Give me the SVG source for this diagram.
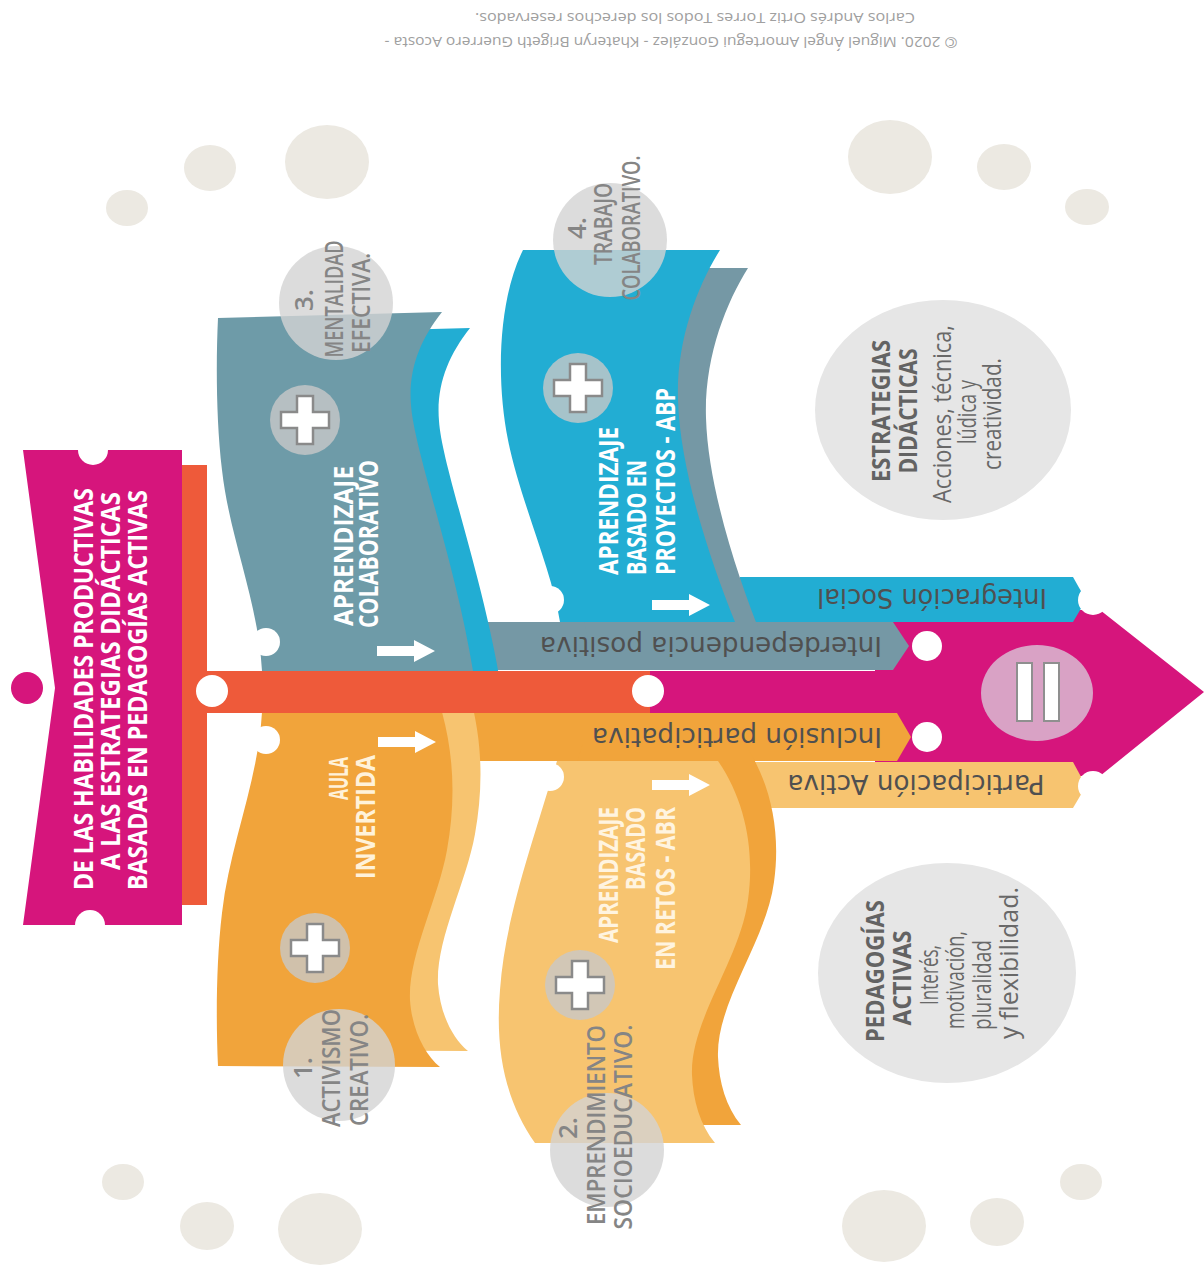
<svg xmlns="http://www.w3.org/2000/svg" width="1204" height="1265" viewBox="0 0 1204 1265">
<defs>
<style>
.t-title{font-family:"Open Sans","Liberation Sans",sans-serif;font-weight:700;font-size:27px;fill:#fff}
.t-rib{font-family:"Open Sans","Liberation Sans",sans-serif;font-weight:700;font-size:26px}
.t-num{font-family:"Open Sans","Liberation Sans",sans-serif;font-weight:600;font-size:26px;fill:#858585}
.t-band{font-family:"DejaVu Sans","Liberation Sans",sans-serif;font-size:26px;fill:#505050}
.t-nb{font-family:"Open Sans","Liberation Sans",sans-serif;font-weight:700;font-size:25px;fill:#636363}
.t-nr{font-family:"Open Sans","Liberation Sans",sans-serif;font-weight:400;font-size:26px;fill:#686868}
.t-copy{font-family:"Open Sans","Liberation Sans",sans-serif;font-size:15px;fill:#a0a0a0}
.deco{fill:#ECE9E2}
.numdisc{fill:#D3D3D3;opacity:.8}
.plusdisc{fill:#C8C8C8;opacity:.8}
.cross{fill:#fff;stroke:#8A8A8A;stroke-width:2.5}
.white{fill:#fff}
.note{fill:#E6E6E6}
.mag{fill:#D6157C}
.red{fill:#EE5A3A}
.greyb{fill:#7598A5}
.greyr{fill:#6E9BA8}
.blue{fill:#22ADD3}
.orange{fill:#F1A43B}
.lorange{fill:#F7C470}
</style>
<path id="crossShape" d="M -8,-24 H 8 V -8 H 24 V 8 H 8 V 24 H -8 V 8 H -24 V -8 H -8 Z"/>
<path id="arrowShape" d="M -29,-5 H 8 V -11 L 29,0 L 8,11 V 5 H -29 Z"/>
<path id="ribG" d="M 218,318 L 442,312 C 420,340 408,370 411,405 C 414,450 455,560 473,671 L 262,671 C 258,600 230,540 222,470 C 216,420 216,360 218,318 Z"/>
<path id="ribO" d="M 262,712 L 442,712 C 455,760 455,805 447,850 C 438,900 408,955 410,1000 C 412,1030 425,1055 440,1067 L 218,1066 C 216,1023 216,963 222,913 C 230,843 258,783 262,712 Z"/>
<path id="ribB" d="M 523,250 L 720,250 C 698,285 676,340 678,400 C 680,470 710,560 735,622 L 560,622 C 552,570 520,500 508,440 C 496,380 498,300 523,250 Z"/>
<path id="ribL" d="M 557,761 L 718,761 C 745,800 755,850 748,900 C 740,960 690,1020 692,1075 C 693,1100 700,1125 715,1143 L 535,1143 C 505,1100 495,1050 500,990 C 505,920 530,850 557,761 Z"/>
</defs>

<rect width="1204" height="1265" fill="#fff"/>

<!-- decorative dots in the corners -->
<g id="decor">
  <ellipse class="deco" cx="127" cy="208" rx="21" ry="18"/>
  <ellipse class="deco" cx="210" cy="168" rx="26" ry="23"/>
  <ellipse class="deco" cx="327" cy="162" rx="42" ry="37"/>
  <ellipse class="deco" cx="890" cy="157" rx="42" ry="37"/>
  <ellipse class="deco" cx="1004" cy="167" rx="27" ry="23"/>
  <ellipse class="deco" cx="1087" cy="207" rx="22" ry="18"/>
  <ellipse class="deco" cx="123" cy="1182" rx="21" ry="18"/>
  <ellipse class="deco" cx="207" cy="1226" rx="27" ry="24"/>
  <ellipse class="deco" cx="320" cy="1229" rx="42" ry="36"/>
  <ellipse class="deco" cx="884" cy="1226" rx="42" ry="36"/>
  <ellipse class="deco" cx="997" cy="1222" rx="27" ry="24"/>
  <ellipse class="deco" cx="1081" cy="1182" rx="21" ry="18"/>
</g>

<!-- copyright line, printed upside down -->
<g id="copyright">
  <text class="t-copy" transform="translate(671,37) rotate(180)" text-anchor="middle" textLength="573" lengthAdjust="spacingAndGlyphs">© 2020. Miguel Ángel Amortegui González - Khateryn Brigeth Guerrero Acosta -</text>
  <text class="t-copy" transform="translate(695,13) rotate(180)" text-anchor="middle" textLength="440" lengthAdjust="spacingAndGlyphs">Carlos Andrés Ortiz Torres Todos los derechos reservados.</text>
</g>

<!-- connectors: arrow body, side bands and spine -->
<g id="connectors">
  <path class="mag" d="M 640,671 H 875 V 610 H 1100 L 1204,692 L 1100,776 H 875 V 713 H 640 Z"/>
  <path class="blue" d="M 740,577 H 1073 L 1086,600 L 1073,622 H 740 Z"/>
  <path class="lorange" d="M 740,762 H 1073 L 1086,786 L 1073,808 H 740 Z"/>
  <path class="greyb" d="M 455,622 H 893 L 909,646 L 893,670 H 455 Z"/>
  <path class="orange" d="M 455,713 H 897 L 911,737 L 897,761 H 455 Z"/>
  <circle class="white" cx="1093" cy="600" r="15"/>
  <circle class="white" cx="927" cy="646" r="15"/>
  <circle class="white" cx="927" cy="737" r="15"/>
  <circle class="white" cx="1093" cy="786" r="15"/>
  <rect class="red" x="178" y="465" width="29" height="440"/>
</g>

<!-- ribbon: Aprendizaje basado en proyectos -->
<g id="rib-abp">
  <use href="#ribB" class="greyb" transform="translate(28,18)"/>
  <use href="#ribB" class="blue"/>
  <circle class="white" cx="550" cy="600" r="14"/>
</g>

<!-- ribbon: Aprendizaje basado en retos -->
<g id="rib-abr">
  <use href="#ribL" class="orange" transform="translate(26,-18)"/>
  <use href="#ribL" class="lorange"/>
  <circle class="white" cx="550" cy="777" r="14"/>
</g>

<!-- ribbon: Aprendizaje colaborativo -->
<g id="rib-colab">
  <use href="#ribG" class="blue" transform="translate(28,16)"/>
  <use href="#ribG" class="greyr"/>
  <circle class="white" cx="266" cy="642" r="14"/>
</g>

<!-- ribbon: Aula invertida -->
<g id="rib-aula">
  <use href="#ribO" class="lorange" transform="translate(28,-16)"/>
  <use href="#ribO" class="orange"/>
  <circle class="white" cx="266" cy="740" r="14"/>
</g>

<!-- spine joining the title to the arrow head -->
<g id="spine">
  <rect class="red" x="200" y="671" width="450" height="42"/>
  <circle class="white" cx="648" cy="691" r="16"/>
  <circle class="white" cx="212" cy="691" r="16"/>
</g>

<!-- title banner -->
<g id="title">
  <path class="mag" d="M 23,450 H 182 V 925 H 23 L 55,688 Z"/>
  <circle class="white" cx="93" cy="450" r="15"/>
  <circle class="white" cx="90" cy="925" r="15"/>
  <circle class="mag" cx="27" cy="688" r="16"/>
  <text class="t-title" transform="translate(93,689) rotate(-90)" text-anchor="middle" textLength="402" lengthAdjust="spacingAndGlyphs">DE LAS HABILIDADES PRODUCTIVAS</text>
  <text class="t-title" transform="translate(120,681) rotate(-90)" text-anchor="middle" textLength="378" lengthAdjust="spacingAndGlyphs">A LAS ESTRATEGIAS DIDÁCTICAS</text>
  <text class="t-title" transform="translate(147,690) rotate(-90)" text-anchor="middle" textLength="400" lengthAdjust="spacingAndGlyphs">BASADAS EN PEDAGOGÍAS ACTIVAS</text>
</g>

<!-- ribbon labels -->
<g id="label-colab" fill="#fff">
  <text class="t-rib" transform="translate(353,546) rotate(-90)" text-anchor="middle" textLength="160" lengthAdjust="spacingAndGlyphs">APRENDIZAJE</text>
  <text class="t-rib" transform="translate(378,544) rotate(-90)" text-anchor="middle" textLength="168" lengthAdjust="spacingAndGlyphs">COLABORATIVO</text>
</g>
<g id="label-aula" fill="#FFF2DA">
  <text class="t-rib" transform="translate(348,757) rotate(-90)" text-anchor="end" textLength="43" lengthAdjust="spacingAndGlyphs">AULA</text>
  <text class="t-rib" transform="translate(375,755) rotate(-90)" text-anchor="end" textLength="124" lengthAdjust="spacingAndGlyphs">INVERTIDA</text>
</g>
<g id="label-abp" fill="#fff">
  <text class="t-rib" transform="translate(618,575) rotate(-90)" textLength="148" lengthAdjust="spacingAndGlyphs">APRENDIZAJE</text>
  <text class="t-rib" transform="translate(646,575) rotate(-90)" textLength="115" lengthAdjust="spacingAndGlyphs">BASADO EN</text>
  <text class="t-rib" transform="translate(675,575) rotate(-90)" textLength="187" lengthAdjust="spacingAndGlyphs">PROYECTOS - ABP</text>
</g>
<g id="label-abr" fill="#FFF4E0">
  <text class="t-rib" transform="translate(618,807) rotate(-90)" text-anchor="end" textLength="136" lengthAdjust="spacingAndGlyphs">APRENDIZAJE</text>
  <text class="t-rib" transform="translate(645,807) rotate(-90)" text-anchor="end" textLength="83" lengthAdjust="spacingAndGlyphs">BASADO</text>
  <text class="t-rib" transform="translate(675,807) rotate(-90)" text-anchor="end" textLength="163" lengthAdjust="spacingAndGlyphs">EN RETOS - ABR</text>
</g>

<!-- plus badges -->
<g id="plus-colab" transform="translate(305,420)">
  <circle class="plusdisc" r="35"/><use href="#crossShape" class="cross"/>
</g>
<g id="plus-aula" transform="translate(315,948)">
  <circle class="plusdisc" r="35"/><use href="#crossShape" class="cross"/>
</g>
<g id="plus-abp" transform="translate(578,388)">
  <circle class="plusdisc" r="35"/><use href="#crossShape" class="cross"/>
</g>
<g id="plus-abr" transform="translate(580,985)">
  <circle class="plusdisc" r="35"/><use href="#crossShape" class="cross"/>
</g>

<!-- small direction arrows -->
<g id="arrows" fill="#fff">
  <use href="#arrowShape" transform="translate(406,651)"/>
  <use href="#arrowShape" transform="translate(407,742)"/>
  <use href="#arrowShape" transform="translate(681,605)"/>
  <use href="#arrowShape" transform="translate(681,785)"/>
</g>

<!-- numbered discs -->
<g id="step-1">
  <circle class="numdisc" cx="339" cy="1065" r="56"/>
  <text class="t-num" transform="translate(312,1068) rotate(-90)" text-anchor="middle">1.</text>
  <text class="t-num" transform="translate(340,1068) rotate(-90)" text-anchor="middle" textLength="118" lengthAdjust="spacingAndGlyphs">ACTIVISMO</text>
  <text class="t-num" transform="translate(368,1070) rotate(-90)" text-anchor="middle" textLength="112" lengthAdjust="spacingAndGlyphs">CREATIVO.</text>
</g>
<g id="step-2">
  <circle class="numdisc" cx="607" cy="1150" r="57"/>
  <text class="t-num" transform="translate(577,1128) rotate(-90)" text-anchor="middle">2.</text>
  <text class="t-num" transform="translate(605,1125) rotate(-90)" text-anchor="middle" textLength="200" lengthAdjust="spacingAndGlyphs">EMPRENDIMIENTO</text>
  <text class="t-num" transform="translate(632,1127) rotate(-90)" text-anchor="middle" textLength="205" lengthAdjust="spacingAndGlyphs">SOCIOEDUCATIVO.</text>
</g>
<g id="step-3">
  <circle class="numdisc" cx="336" cy="303" r="57"/>
  <text class="t-num" transform="translate(313,300) rotate(-90)" text-anchor="middle">3.</text>
  <text class="t-num" transform="translate(343,299) rotate(-90)" text-anchor="middle" textLength="117" lengthAdjust="spacingAndGlyphs">MENTALIDAD</text>
  <text class="t-num" transform="translate(370,303) rotate(-90)" text-anchor="middle" textLength="100" lengthAdjust="spacingAndGlyphs">EFECTIVA.</text>
</g>
<g id="step-4">
  <circle class="numdisc" cx="610" cy="240" r="57"/>
  <text class="t-num" transform="translate(586,228) rotate(-90)" text-anchor="middle">4.</text>
  <text class="t-num" transform="translate(612,224) rotate(-90)" text-anchor="middle" textLength="82" lengthAdjust="spacingAndGlyphs">TRABAJO</text>
  <text class="t-num" transform="translate(640,228) rotate(-90)" text-anchor="middle" textLength="145" lengthAdjust="spacingAndGlyphs">COLABORATIVO.</text>
</g>

<!-- band labels (upside down) -->
<g id="band-labels">
  <text class="t-band" transform="translate(932,589) rotate(180)" text-anchor="middle" textLength="230" lengthAdjust="spacingAndGlyphs">Integración Social</text>
  <text class="t-band" transform="translate(711,637) rotate(180)" text-anchor="middle" textLength="342" lengthAdjust="spacingAndGlyphs">Interdependencia positiva</text>
  <text class="t-band" transform="translate(737,728) rotate(180)" text-anchor="middle" textLength="290" lengthAdjust="spacingAndGlyphs">Inclusión participativa</text>
  <text class="t-band" transform="translate(916,775) rotate(180)" text-anchor="middle" textLength="257" lengthAdjust="spacingAndGlyphs">Participación Activa</text>
</g>

<!-- equals badge on the arrow head -->
<g id="equals">
  <ellipse cx="1037" cy="693" rx="56" ry="48" fill="#D9A2C5"/>
  <rect x="1017" y="663" width="15" height="58" fill="#fff" stroke="#8F8F8F" stroke-width="2"/>
  <rect x="1044" y="663" width="15" height="58" fill="#fff" stroke="#8F8F8F" stroke-width="2"/>
</g>

<!-- note: estrategias didácticas -->
<g id="note-estrategias">
  <ellipse class="note" cx="943" cy="410" rx="128" ry="110"/>
  <text class="t-nb" transform="translate(890,411) rotate(-90)" text-anchor="middle" textLength="142" lengthAdjust="spacingAndGlyphs">ESTRATEGIAS</text>
  <text class="t-nb" transform="translate(917,411) rotate(-90)" text-anchor="middle" textLength="125" lengthAdjust="spacingAndGlyphs">DIDÁCTICAS</text>
  <text class="t-nr" transform="translate(951,414) rotate(-90)" text-anchor="middle" textLength="178" lengthAdjust="spacingAndGlyphs">Acciones, técnica,</text>
  <text class="t-nr" transform="translate(976,412) rotate(-90)" text-anchor="middle" textLength="64" lengthAdjust="spacingAndGlyphs">lúdica y</text>
  <text class="t-nr" transform="translate(1001,414) rotate(-90)" text-anchor="middle" textLength="112" lengthAdjust="spacingAndGlyphs">creatividad.</text>
</g>

<!-- note: pedagogías activas -->
<g id="note-pedagogias">
  <ellipse class="note" cx="947" cy="973" rx="129" ry="110"/>
  <text class="t-nb" transform="translate(884,971) rotate(-90)" text-anchor="middle" textLength="142" lengthAdjust="spacingAndGlyphs">PEDAGOGÍAS</text>
  <text class="t-nb" transform="translate(911,978) rotate(-90)" text-anchor="middle" textLength="95" lengthAdjust="spacingAndGlyphs">ACTIVAS</text>
  <text class="t-nr" transform="translate(938,975) rotate(-90)" text-anchor="middle" textLength="60" lengthAdjust="spacingAndGlyphs">Interés,</text>
  <text class="t-nr" transform="translate(964,980) rotate(-90)" text-anchor="middle" textLength="98" lengthAdjust="spacingAndGlyphs">motivación,</text>
  <text class="t-nr" transform="translate(991,985) rotate(-90)" text-anchor="middle" textLength="90" lengthAdjust="spacingAndGlyphs">pluralidad</text>
  <text class="t-nr" transform="translate(1018,963) rotate(-90)" text-anchor="middle" textLength="152" lengthAdjust="spacingAndGlyphs">y flexibilidad.</text>
</g>
</svg>
